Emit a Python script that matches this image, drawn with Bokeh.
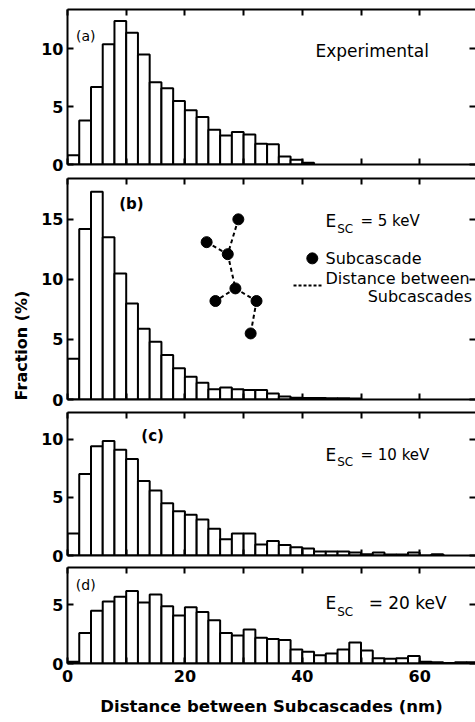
import math
from bokeh.plotting import figure
from bokeh.layouts import column, row
from bokeh.models import Label, FixedTicker, LinearAxis
from bokeh.embed import file_html
from bokeh.resources import INLINE

# ---------------- data ----------------
bin_width_nm = 2.0
# (a) experimental histogram, fraction (%) per 2-nm bin starting at 0 nm
frac_experimental = [0.8, 3.8, 6.7, 10.4, 12.4, 11.4, 9.5, 7.1, 6.6, 5.5, 4.7, 4.1,
                     3.0, 2.5, 2.8, 2.6, 1.8, 1.75, 0.7, 0.4, 0.15]
# (b) E_SC = 5 keV
frac_5kev = [3.4, 14.2, 17.3, 13.5, 10.5, 8.0, 5.9, 4.8, 3.7, 2.6, 1.9, 1.4,
             0.85, 1.0, 0.85, 0.8, 0.8, 0.5, 0.25, 0.15, 0.12, 0.12, 0.1, 0.1, 0.08]
# (c) E_SC = 10 keV
frac_10kev = [1.9, 7.0, 9.4, 9.85, 9.1, 8.3, 6.4, 5.6, 4.5, 3.8, 3.5, 3.1,
              2.3, 1.4, 1.9, 1.9, 0.95, 1.25, 0.9, 0.7, 0.6, 0.35, 0.35, 0.35,
              0.25, 0.1, 0.25, 0.08, 0.08, 0.25, 0.0, 0.1]
# (d) E_SC = 20 keV
frac_20kev = [0.15, 2.6, 4.5, 5.3, 5.7, 6.2, 5.2, 5.9, 4.9, 4.1, 4.8, 4.4,
              3.7, 2.6, 2.4, 2.9, 2.2, 2.1, 2.0, 1.2, 1.0, 0.7, 0.85, 1.2,
              1.8, 1.1, 0.45, 0.4, 0.45, 0.65, 0.15, 0.1, 0.05, 0.1, 0.1]

x_ticks = [0, 10, 20, 30, 40, 50, 60, 70]
x_tick_labels = {0: "0", 10: "", 20: "20", 30: "", 40: "40", 50: "", 60: "60", 70: ""}
y_ticks = [0, 5, 10, 15]

# schematic of subcascades in panel (b) (drawn in the panel's nm / % space)
node_x = [29.1, 23.7, 27.3, 28.6, 25.2, 32.2, 31.2]
node_y = [15.0, 13.1, 12.1, 9.25, 8.2, 8.2, 5.5]
node_links = [(0, 2), (1, 2), (2, 3), (3, 4), (3, 5), (5, 6)]

FONT = "DejaVu Sans"


def make_panel(values, y_end, frame_h, b_top, b_bottom, last=False):
    p = figure(frame_width=408, frame_height=frame_h,
               x_range=(0, 69.5), y_range=(0, y_end),
               output_backend="svg", toolbar_location=None,
               x_axis_location=None, y_axis_location=None,
               min_border_left=33, min_border_right=0,
               min_border_top=b_top, min_border_bottom=b_bottom)
    p.outline_line_color = None
    p.xgrid.visible = False
    p.ygrid.visible = False
    p.background_fill_color = "white"
    p.border_fill_color = "white"

    centers = [bin_width_nm * i + bin_width_nm / 2 for i in range(len(values))]
    p.vbar(x=centers, top=values, bottom=0, width=bin_width_nm,
           fill_color="white", line_color="black", line_width=2)

    def style(ax, labels=False):
        ax.major_tick_in = 6
        ax.major_tick_out = 0
        ax.minor_tick_line_color = None
        ax.major_tick_line_width = 2
        ax.axis_line_width = 2
        ax.major_tick_line_color = "black"
        ax.axis_line_color = "black"
        if labels:
            ax.major_label_text_font = FONT
            ax.major_label_text_font_size = "16px"
            ax.major_label_text_font_style = "bold"
            ax.major_label_text_color = "black"
        else:
            ax.major_label_text_font_size = "1px"
            ax.major_label_text_color = None
            ax.major_label_text_alpha = 0
            ax.major_label_standoff = 0

    left = LinearAxis(ticker=FixedTicker(ticks=y_ticks))
    style(left, True)
    left.major_label_standoff = 4
    p.add_layout(left, "left")

    right = LinearAxis(ticker=FixedTicker(ticks=y_ticks))
    style(right, False)
    right.axis_line_color = None
    p.add_layout(right, "right")

    top = LinearAxis(ticker=FixedTicker(ticks=x_ticks))
    style(top, False)
    p.add_layout(top, "above")

    bottom = LinearAxis(ticker=FixedTicker(ticks=x_ticks))
    style(bottom, last)
    if last:
        bottom.major_label_overrides = x_tick_labels
        bottom.major_label_standoff = 6
        bottom.axis_label = "Distance between Subcascades (nm)"
        bottom.axis_label_text_font = FONT
        bottom.axis_label_text_font_size = "16.5px"
        bottom.axis_label_text_font_style = "bold"
        bottom.axis_label_text_color = "black"
        bottom.axis_label_standoff = 12
    p.add_layout(bottom, "below")
    return p


def txt(p, x, y, s, size="15px", align="left", style="normal"):
    p.add_layout(Label(x=x, y=y, text=s, text_font=FONT, text_font_size=size,
                       text_align=align, text_baseline="middle",
                       text_font_style=style, text_color="black"))


def esc(p, x, y, y_sub, rest, rest_x, rest_size="15px"):
    txt(p, x, y, "E", "17px")
    txt(p, x + 2.0, y_sub, "SC", "12px")
    txt(p, rest_x, y, rest, rest_size)


pa = make_panel(frac_experimental, 13.4, 155, 9, 10)
txt(pa, 3.1, 11.15, "(a)", "14px", "center")
txt(pa, 51.9, 9.85, "Experimental", "17px", "center")

pb = make_panel(frac_5kev, 18.4, 221, 4, 9)
txt(pb, 10.9, 16.3, "(b)", "15px", "center", "bold")
esc(pb, 43.95, 14.83, 14.17, "= 5 keV", 49.9)
xs = [[node_x[i], node_x[j]] for i, j in node_links]
ys = [[node_y[i], node_y[j]] for i, j in node_links]
pb.multi_line(xs=xs, ys=ys, line_color="black", line_width=2, line_dash="4 3")
pb.scatter(x=node_x, y=node_y, size=11, color="black")
pb.scatter(x=[41.7], y=[11.75], size=11, color="black")
txt(pb, 43.95, 11.75, "Subcascade", "16px")
pb.line(x=[38.5, 43.6], y=[9.5, 9.5], line_color="black", line_width=2, line_dash="3 2")
txt(pb, 43.95, 10.1, "Distance between", "16px")
txt(pb, 68.9, 8.6, "Subcascades", "16px", "right")

pc = make_panel(frac_10kev, 12.3, 143, 4, 10)
txt(pc, 14.5, 10.3, "(c)", "15px", "center", "bold")
esc(pc, 43.95, 8.67, 8.05, "= 10 keV", 49.9, "15px")

pd = make_panel(frac_20kev, 8.2, 96, 2, 59, last=True)
txt(pd, 3.1, 6.67, "(d)", "14px", "center")
esc(pd, 43.95, 5.13, 4.4, "= 20 keV", 51.3, "17px")

# y-axis title in a narrow strip on the left
pl = figure(frame_width=34, frame_height=722, x_range=(0, 34), y_range=(0, 722),
            output_backend="svg", toolbar_location=None,
            x_axis_location=None, y_axis_location=None,
            min_border_left=0, min_border_right=0, min_border_top=0, min_border_bottom=0)
pl.outline_line_color = None
pl.xgrid.visible = False
pl.ygrid.visible = False
pl.add_layout(Label(x=21, y=722 - 345, text="Fraction (%)", angle=math.pi / 2,
                    text_font=FONT, text_font_size="16px", text_font_style="bold",
                    text_align="center", text_baseline="middle", text_color="black"))

layout = row(pl, column(pa, pb, pc, pd, spacing=0), spacing=0)

open("out.html", "w").write(file_html(layout, INLINE))
